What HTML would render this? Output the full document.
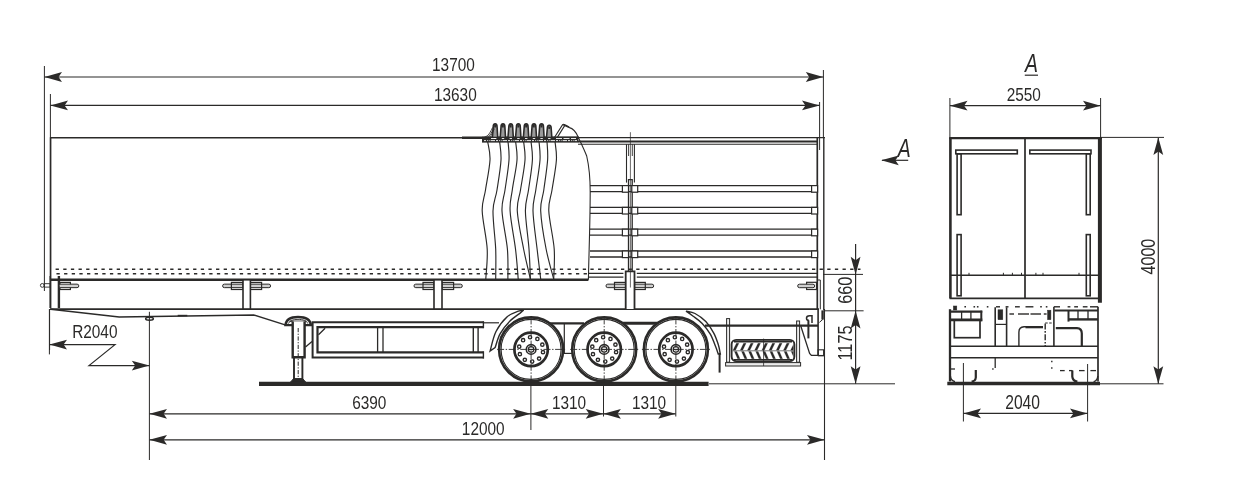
<!DOCTYPE html>
<html><head><meta charset="utf-8"><title>Semi-trailer</title>
<style>
html,body{margin:0;padding:0;background:#fff;}
svg{display:block;font-family:"Liberation Sans",sans-serif;will-change:transform;transform:translateZ(0);}
</style></head><body>
<svg width="1248" height="500" viewBox="0 0 1248 500" stroke="#2b2a29" fill="none" stroke-linecap="butt">
<rect x="0" y="0" width="1248" height="500" fill="#ffffff" stroke="none"/>
<!-- 10_topdims.py -->
<line x1="44.4" y1="66" x2="44.4" y2="291" stroke-width="1" />
<line x1="50.4" y1="94" x2="50.4" y2="280" stroke-width="1" />
<line x1="823.4" y1="70" x2="823.4" y2="138" stroke-width="1" />
<line x1="819.6" y1="102" x2="819.6" y2="150" stroke-width="1" />
<line x1="44.4" y1="77.0" x2="823.4" y2="77.0" stroke-width="1.2" />
<line x1="50.4" y1="105.4" x2="819.6" y2="105.4" stroke-width="1.2" />
<path d="M0,0 L-17.6,-4.9 L-14.200000000000001,0 L-17.6,4.9 Z" fill="#2b2a29" stroke="none" transform="translate(44.4,77.0) rotate(180)"/>
<path d="M0,0 L-17.6,-4.9 L-14.200000000000001,0 L-17.6,4.9 Z" fill="#2b2a29" stroke="none" transform="translate(823.4,77.0) rotate(0)"/>
<path d="M0,0 L-17.6,-4.9 L-14.200000000000001,0 L-17.6,4.9 Z" fill="#2b2a29" stroke="none" transform="translate(50.4,105.4) rotate(180)"/>
<path d="M0,0 L-17.6,-4.9 L-14.200000000000001,0 L-17.6,4.9 Z" fill="#2b2a29" stroke="none" transform="translate(819.6,105.4) rotate(0)"/>
<text transform="translate(453.4,70.6) rotate(0) scale(0.81,1)" font-size="19" text-anchor="middle" fill="#2b2a29" stroke="none" >13700</text>
<text transform="translate(455.3,101.0) rotate(0) scale(0.81,1)" font-size="19" text-anchor="middle" fill="#2b2a29" stroke="none" >13630</text>
<!-- 20_body.py -->
<line x1="51" y1="137.8" x2="462" y2="137.8" stroke-width="1.5" />
<line x1="462" y1="137.8" x2="579" y2="137.8" stroke-width="2.4" />
<line x1="578" y1="137.7" x2="825" y2="137.7" stroke-width="1.2" />
<line x1="578" y1="141.5" x2="818" y2="141.5" stroke-width="2.0" />
<line x1="578" y1="144.3" x2="818" y2="144.3" stroke-width="1.1" />
<line x1="50.6" y1="137.2" x2="50.6" y2="276" stroke-width="1.6" />
<line x1="50.4" y1="276" x2="50.4" y2="308" stroke-width="2.0" />
<line x1="50" y1="279.8" x2="588.4" y2="279.8" stroke-width="2.4" />
<line x1="55.6" y1="269.3" x2="860.5" y2="269.3" stroke-width="1.4" stroke-dasharray="3.3 4.34"/>
<line x1="56.45" y1="273.8" x2="589" y2="273.8" stroke-width="1.4" stroke-dasharray="3.3 4.34"/>
<line x1="589" y1="273.3" x2="623.4" y2="273.3" stroke-width="1.3" />
<line x1="636.8" y1="273.3" x2="818" y2="273.3" stroke-width="1.3" />
<line x1="589" y1="277.1" x2="623.4" y2="277.1" stroke-width="1.3" />
<line x1="636.8" y1="277.1" x2="818" y2="277.1" stroke-width="1.3" />
<line x1="50" y1="309.1" x2="819" y2="309.1" stroke-width="1.7" />
<circle cx="42.3" cy="285.4" r="1.9" stroke-width="0.9"/>
<rect x="44.2" y="283.7" width="6" height="3.4" stroke-width="0.9" fill="none" />
<line x1="58.9" y1="276" x2="58.9" y2="308" stroke-width="2.4" />
<rect x="60" y="282.4" width="10.4" height="7.1" stroke-width="1.2" fill="#fff" />
<rect x="59" y="284.15" width="19.8" height="3.5" rx="1.75" fill="#cfcfcf" stroke-width="1.0"/>
<rect x="222.6" y="284.15" width="48.00000000000003" height="3.5" rx="1.75" fill="#cfcfcf" stroke-width="1.0"/>
<rect x="231.4" y="282.4" width="11.599999999999994" height="7.1" stroke-width="1.2" fill="none" />
<rect x="250.4" y="282.4" width="11.200000000000017" height="7.1" stroke-width="1.2" fill="none" />
<rect x="243" y="279.8" width="7.4" height="29.2" stroke-width="1.6" fill="#fff" />
<rect x="414" y="284.15" width="48.30000000000001" height="3.5" rx="1.75" fill="#cfcfcf" stroke-width="1.0"/>
<rect x="423" y="282.4" width="11" height="7.1" stroke-width="1.2" fill="none" />
<rect x="442" y="282.4" width="11.600000000000023" height="7.1" stroke-width="1.2" fill="none" />
<rect x="434" y="279.8" width="8" height="29.2" stroke-width="1.6" fill="#fff" />
<rect x="606" y="284.15" width="47.700000000000045" height="3.5" rx="1.75" fill="#cfcfcf" stroke-width="1.0"/>
<rect x="614.5" y="282.4" width="11.200000000000045" height="7.1" stroke-width="1.2" fill="none" />
<rect x="634.5" y="282.4" width="10.799999999999955" height="7.1" stroke-width="1.2" fill="none" />
<path d="M625.7,309 V271.4 H634.5 V309" stroke-width="1.8" fill="#fff" />
<line x1="630.4" y1="132.2" x2="630.4" y2="287.5" stroke-width="0.7" />
<line x1="626.5" y1="144.2" x2="626.5" y2="182.6" stroke-width="1.1" />
<line x1="634.4" y1="144.2" x2="634.4" y2="182.6" stroke-width="1.1" />
<line x1="628.6" y1="144.2" x2="628.6" y2="156" stroke-width="0.9" />
<line x1="632.3" y1="144.2" x2="632.3" y2="156" stroke-width="0.9" />
<path d="M628.5,271.4 V179.6 H632.2 V271.4" stroke-width="1.3" fill="none" />
<line x1="817.3" y1="138" x2="817.3" y2="309" stroke-width="1.7" />
<line x1="823.8" y1="137.2" x2="823.8" y2="310" stroke-width="1.4" />
<line x1="590" y1="185.6" x2="817.6" y2="185.6" stroke-width="1.3" />
<line x1="590" y1="191.6" x2="817.6" y2="191.6" stroke-width="1.3" />
<rect x="622.4" y="185.6" width="6.1" height="6.6" stroke-width="1.2" fill="#fff" />
<rect x="631.8" y="185.6" width="5.9" height="6.6" stroke-width="1.2" fill="#fff" />
<rect x="811.6" y="185.6" width="6" height="6.6" stroke-width="1.2" fill="#fff" />
<line x1="590" y1="207.4" x2="817.6" y2="207.4" stroke-width="1.3" />
<line x1="590" y1="213.4" x2="817.6" y2="213.4" stroke-width="1.3" />
<rect x="622.4" y="207.4" width="6.1" height="6.6" stroke-width="1.2" fill="#fff" />
<rect x="631.8" y="207.4" width="5.9" height="6.6" stroke-width="1.2" fill="#fff" />
<rect x="811.6" y="207.4" width="6" height="6.6" stroke-width="1.2" fill="#fff" />
<line x1="590" y1="229.2" x2="817.6" y2="229.2" stroke-width="1.3" />
<line x1="590" y1="235.2" x2="817.6" y2="235.2" stroke-width="1.3" />
<rect x="622.4" y="229.2" width="6.1" height="6.6" stroke-width="1.2" fill="#fff" />
<rect x="631.8" y="229.2" width="5.9" height="6.6" stroke-width="1.2" fill="#fff" />
<rect x="811.6" y="229.2" width="6" height="6.6" stroke-width="1.2" fill="#fff" />
<line x1="590" y1="251.0" x2="817.6" y2="251.0" stroke-width="1.3" />
<line x1="590" y1="257.0" x2="817.6" y2="257.0" stroke-width="1.3" />
<rect x="622.4" y="251.0" width="6.1" height="6.6" stroke-width="1.2" fill="#fff" />
<rect x="631.8" y="251.0" width="5.9" height="6.6" stroke-width="1.2" fill="#fff" />
<rect x="811.6" y="251.0" width="6" height="6.6" stroke-width="1.2" fill="#fff" />
<!-- 30_curtain.py -->
<path d="M487.6,141.4 C488.0,144.5 490.4,151.9 490.0,160.0 C489.6,168.1 486.8,181.5 485.5,190.0 C484.2,198.5 481.9,201.2 482.2,211.0 C482.5,220.8 486.6,237.7 487.2,249.0 C487.8,260.3 486.0,274.0 485.8,279.0" stroke-width="1.15" fill="none" />
<path d="M499.6,141.4 C499.8,144.5 501.4,151.9 501.0,160.0 C500.6,168.1 498.3,181.5 497.0,190.0 C495.7,198.5 493.2,201.2 493.0,211.0 C492.8,220.8 495.2,237.7 495.7,249.0 C496.1,260.3 495.7,274.0 495.7,279.0" stroke-width="1.15" fill="none" />
<path d="M508.0,141.4 C508.2,144.5 509.5,151.9 509.0,160.0 C508.5,168.1 506.2,181.5 505.0,190.0 C503.8,198.5 501.6,201.2 502.0,211.0 C502.4,220.8 506.4,237.7 507.4,249.0 C508.4,260.3 507.8,274.0 507.9,279.0" stroke-width="1.15" fill="none" />
<path d="M515.6,141.4 C515.8,144.5 517.5,151.9 517.0,160.0 C516.5,168.1 513.4,181.5 512.3,190.0 C511.1,198.5 509.6,201.2 510.1,211.0 C510.6,220.8 514.1,237.7 515.5,249.0 C516.9,260.3 517.8,274.0 518.2,279.0" stroke-width="1.15" fill="none" />
<path d="M523.6,141.4 C523.8,144.5 525.5,151.9 525.0,160.0 C524.5,168.1 521.8,181.5 520.5,190.0 C519.2,198.5 516.8,201.2 517.3,211.0 C517.8,220.8 521.4,237.7 523.6,249.0 C525.8,260.3 529.3,274.0 530.4,279.0" stroke-width="1.15" fill="none" />
<path d="M531.0,141.4 C531.2,144.5 532.8,151.9 532.4,160.0 C532.0,168.1 529.7,181.5 528.5,190.0 C527.3,198.5 525.3,201.2 525.4,211.0 C525.5,220.8 528.2,237.7 529.0,249.0 C529.8,260.3 530.2,274.0 530.4,279.0" stroke-width="1.15" fill="none" />
<path d="M539.0,141.4 C539.2,144.5 540.5,151.9 540.0,160.0 C539.5,168.1 537.0,181.5 535.8,190.0 C534.6,198.5 532.8,201.2 533.0,211.0 C533.2,220.8 535.8,237.7 537.1,249.0 C538.4,260.3 540.1,274.0 540.7,279.0" stroke-width="1.15" fill="none" />
<path d="M547.0,141.4 C547.1,144.5 548.1,151.9 547.6,160.0 C547.1,168.1 544.9,181.5 543.8,190.0 C542.6,198.5 540.3,201.2 540.7,211.0 C541.1,220.8 543.9,237.7 546.1,249.0 C548.3,260.3 552.4,274.0 553.7,279.0" stroke-width="1.15" fill="none" />
<path d="M555.0,141.4 C555.2,144.5 556.9,151.9 556.4,160.0 C555.9,168.1 553.3,181.5 552.0,190.0 C550.7,198.5 548.4,201.2 548.8,211.0 C549.2,220.8 553.4,237.7 554.2,249.0 C555.0,260.3 553.8,274.0 553.7,279.0" stroke-width="1.15" fill="none" />
<path d="M492.4,137.2 L493.2,127.30000000000001 C493.2,124.7 494.0,123.9 495.2,123.9 C496.4,123.9 497.09999999999997,124.7 497.09999999999997,127.30000000000001 L497.7,137.2" stroke-width="1.6" fill="#9a9a9a" />
<path d="M495.09999999999997,127.5 V125.10000000000001" stroke-width="1.8" fill="none" />
<path d="M500.2,137.2 L501.0,127.30000000000001 C501.0,124.7 501.8,123.9 503.0,123.9 C504.2,123.9 504.9,124.7 504.9,127.30000000000001 L505.5,137.2" stroke-width="1.6" fill="#9a9a9a" />
<path d="M502.9,127.5 V125.10000000000001" stroke-width="1.8" fill="none" />
<path d="M508.0,137.2 L508.8,127.30000000000001 C508.8,124.7 509.6,123.9 510.8,123.9 C512.0,123.9 512.7,124.7 512.7,127.30000000000001 L513.3,137.2" stroke-width="1.6" fill="#9a9a9a" />
<path d="M510.7,127.5 V125.10000000000001" stroke-width="1.8" fill="none" />
<path d="M515.6,137.2 L516.4,127.30000000000001 C516.4,124.7 517.1999999999999,123.9 518.4,123.9 C519.6,123.9 520.3,124.7 520.3,127.30000000000001 L520.9,137.2" stroke-width="1.6" fill="#9a9a9a" />
<path d="M518.3,127.5 V125.10000000000001" stroke-width="1.8" fill="none" />
<path d="M523.4000000000001,137.2 L524.2,127.30000000000001 C524.2,124.7 525.0,123.9 526.2,123.9 C527.4000000000001,123.9 528.1,124.7 528.1,127.30000000000001 L528.7,137.2" stroke-width="1.6" fill="#9a9a9a" />
<path d="M526.1,127.5 V125.10000000000001" stroke-width="1.8" fill="none" />
<path d="M531.2,137.2 L532.0,127.30000000000001 C532.0,124.7 532.8,123.9 534.0,123.9 C535.2,123.9 535.9,124.7 535.9,127.30000000000001 L536.5,137.2" stroke-width="1.6" fill="#9a9a9a" />
<path d="M533.9,127.5 V125.10000000000001" stroke-width="1.8" fill="none" />
<path d="M538.8000000000001,137.2 L539.6,127.30000000000001 C539.6,124.7 540.4,123.9 541.6,123.9 C542.8000000000001,123.9 543.5,124.7 543.5,127.30000000000001 L544.1,137.2" stroke-width="1.6" fill="#9a9a9a" />
<path d="M541.5,127.5 V125.10000000000001" stroke-width="1.8" fill="none" />
<path d="M546.5,137.2 L547.3,128.7 C547.3,126.1 548.0999999999999,125.3 549.3,125.3 C550.5,125.3 551.1999999999999,126.1 551.1999999999999,128.7 L551.8,137.2" stroke-width="1.6" fill="#9a9a9a" />
<path d="M549.1999999999999,128.9 V126.5" stroke-width="1.8" fill="none" />
<path d="M484.5,137.0 C488.5,136.4 490.4,132 492.6,127.5" stroke-width="0.9" fill="none" />
<path d="M487.4,137.0 C490.6,135.6 491.8,132 493.8,127.8" stroke-width="0.9" fill="none" />
<path d="M489.8,137.0 C491.8,135 492.8,132 494.4,128.6" stroke-width="0.8" fill="none" />
<path d="M554.6,137.2 L562.6,124.6 C563.2,124 564,124.2 565,124.8 L568.6,126.7 L569.4,127.6 C572,128.2 575.5,131 578,136.7 C581,143 584.5,150 586.7,156 C589,166 590.2,178 590.2,192 C590.2,220 589,250 588.4,279.8" stroke-width="1.1" fill="none" />
<path d="M557.4,137.2 L564.6,125.8" stroke-width="1.2" fill="none" />
<path d="M563,124.6 L569,127.4" stroke-width="1.6" fill="none" />
<rect x="482" y="136.75" width="96.4" height="5.85" stroke-width="0" fill="#2b2a29" stroke="none"/>
<line x1="494.0" y1="138.5" x2="496.4" y2="138.5" stroke-width="0.9" stroke="#fff"/>
<line x1="501.8" y1="138.5" x2="504.2" y2="138.5" stroke-width="0.9" stroke="#fff"/>
<line x1="509.6" y1="138.5" x2="512.0" y2="138.5" stroke-width="0.9" stroke="#fff"/>
<line x1="517.1999999999999" y1="138.5" x2="519.6" y2="138.5" stroke-width="0.9" stroke="#fff"/>
<line x1="525.0" y1="138.5" x2="527.4000000000001" y2="138.5" stroke-width="0.9" stroke="#fff"/>
<line x1="532.8" y1="138.5" x2="535.2" y2="138.5" stroke-width="0.9" stroke="#fff"/>
<line x1="540.4" y1="138.5" x2="542.8000000000001" y2="138.5" stroke-width="0.9" stroke="#fff"/>
<line x1="548.0999999999999" y1="138.5" x2="550.5" y2="138.5" stroke-width="0.9" stroke="#fff"/>
<line x1="491" y1="138.5" x2="496" y2="138.5" stroke-width="0.9" stroke="#fff"/>
<line x1="556" y1="138.5" x2="576" y2="138.5" stroke-width="0.9" stroke="#fff" stroke-dasharray="6 1.5"/>
<line x1="484" y1="140.6" x2="577" y2="140.6" stroke-width="0.9" stroke="#fff" stroke-dasharray="2 1 0.8 1 0.8 1 4.4 1"/>
<!-- 40_chassis.py -->
<path d="M50.6,309.2 L119.2,317.1 L253.8,315 L285.9,325.1" stroke-width="1.5" fill="none" />
<line x1="177.7" y1="315.6" x2="187.3" y2="315.6" stroke-width="1.6" />
<line x1="49.6" y1="309" x2="49.6" y2="350" stroke-width="1.0" />
<line x1="149.4" y1="311.8" x2="149.4" y2="460" stroke-width="1.0" />
<ellipse cx="149.5" cy="318.8" rx="3.9" ry="1.5" stroke-width="1.4"/>
<path d="M285.4,325.2 C286,319.4 291,317.0 298,317.0 C305,317.0 310.4,319.4 311.0,325.2 Z" stroke-width="2.3" fill="#fff" />
<path d="M288.4,323.6 C289.6,320.4 293,319.4 298,319.4 C303,319.4 306.6,320.4 307.8,323.6" stroke-width="0.9" fill="none" />
<line x1="289.5" y1="321.2" x2="306.5" y2="321.2" stroke-width="1.2" />
<path d="M292.7,321.4 V357.2 H304.6 V321.4" stroke-width="2.4" fill="#fff" />
<path d="M294.0,357.2 V381 M302.4,357.2 V381" stroke-width="1.9" fill="none" />
<path d="M290.2,382.4 L293.6,378.6 H302.6 L306,382.4 Z" stroke-width="1.0" fill="#2b2a29" />
<line x1="298.2" y1="328" x2="298.2" y2="379" stroke-width="1.0" stroke-dasharray="4.2 1.5 1.2 1.5"/>
<line x1="259" y1="383.95" x2="708.6" y2="383.95" stroke-width="4.3" />
<path d="M483.6,322.2 H312.6 V357.6 H483.6" stroke-width="2.0" fill="none" />
<path d="M483.6,327.1 H317.5 V352.4 H483.6" stroke-width="2.2" fill="none" />
<line x1="483.4" y1="321.2" x2="483.4" y2="328.2" stroke-width="1.4" />
<line x1="483.4" y1="351.3" x2="483.4" y2="358.6" stroke-width="1.4" />
<line x1="377.6" y1="327" x2="377.6" y2="352.5" stroke-width="1.3" />
<line x1="383" y1="327" x2="383" y2="352.5" stroke-width="1.3" />
<line x1="473.3" y1="327" x2="473.3" y2="352.5" stroke-width="1.4" />
<line x1="478.1" y1="327" x2="478.1" y2="352.5" stroke-width="1.4" />
<path d="M305.5,346.9 L312,341.4 M318.5,334.8 L325.1,328.2" stroke-width="1.3" fill="none" />
<line x1="484" y1="322.8" x2="499" y2="322.8" stroke-width="1.2" />
<!-- 50_wheels.py -->
<line x1="550" y1="323.4" x2="584" y2="323.4" stroke-width="2.2" />
<line x1="617" y1="323.2" x2="663" y2="323.2" stroke-width="3.0" />
<line x1="564.3" y1="323" x2="564.3" y2="353.4" stroke-width="1.2" />
<line x1="562.5" y1="353.4" x2="573" y2="353.4" stroke-width="1.2" />
<circle cx="531.1" cy="349.4" r="32.0" stroke-width="2.6" fill="#fff"/>
<circle cx="531.1" cy="349.4" r="30.0" stroke-width="1.1" fill="none"/>
<circle cx="531.1" cy="349.4" r="16.7" stroke-width="2.7" fill="none"/>
<circle cx="531.1" cy="349.4" r="4.8" stroke-width="1.6" fill="none"/>
<circle cx="531.1" cy="349.4" r="2.7" stroke-width="1.2" fill="none"/>
<line x1="528.1" y1="349.4" x2="534.1" y2="349.4" stroke-width="1.1" />
<circle cx="530.04" cy="337.25" r="1.65" stroke-width="1.4" fill="none"/>
<circle cx="537.38" cy="338.94" r="1.65" stroke-width="1.4" fill="none"/>
<circle cx="542.33" cy="344.63" r="1.65" stroke-width="1.4" fill="none"/>
<circle cx="542.99" cy="352.14" r="1.65" stroke-width="1.4" fill="none"/>
<circle cx="539.1" cy="358.61" r="1.65" stroke-width="1.4" fill="none"/>
<circle cx="532.16" cy="361.55" r="1.65" stroke-width="1.4" fill="none"/>
<circle cx="524.82" cy="359.86" r="1.65" stroke-width="1.4" fill="none"/>
<circle cx="519.87" cy="354.17" r="1.65" stroke-width="1.4" fill="none"/>
<circle cx="519.21" cy="346.66" r="1.65" stroke-width="1.4" fill="none"/>
<circle cx="523.1" cy="340.19" r="1.65" stroke-width="1.4" fill="none"/>
<line x1="497.1" y1="349.4" x2="565.1" y2="349.4" stroke-width="0.9" stroke-dasharray="7 1.6 1.4 1.6"/>
<line x1="531.1" y1="317.4" x2="531.1" y2="382.4" stroke-width="0.9" stroke-dasharray="7 1.6 1.4 1.6"/>
<circle cx="604.2" cy="349.4" r="32.0" stroke-width="2.6" fill="#fff"/>
<circle cx="604.2" cy="349.4" r="30.0" stroke-width="1.1" fill="none"/>
<circle cx="604.2" cy="349.4" r="16.7" stroke-width="2.7" fill="none"/>
<circle cx="604.2" cy="349.4" r="4.8" stroke-width="1.6" fill="none"/>
<circle cx="604.2" cy="349.4" r="2.7" stroke-width="1.2" fill="none"/>
<line x1="601.2" y1="349.4" x2="607.2" y2="349.4" stroke-width="1.1" />
<circle cx="603.14" cy="337.25" r="1.65" stroke-width="1.4" fill="none"/>
<circle cx="610.48" cy="338.94" r="1.65" stroke-width="1.4" fill="none"/>
<circle cx="615.43" cy="344.63" r="1.65" stroke-width="1.4" fill="none"/>
<circle cx="616.09" cy="352.14" r="1.65" stroke-width="1.4" fill="none"/>
<circle cx="612.2" cy="358.61" r="1.65" stroke-width="1.4" fill="none"/>
<circle cx="605.26" cy="361.55" r="1.65" stroke-width="1.4" fill="none"/>
<circle cx="597.92" cy="359.86" r="1.65" stroke-width="1.4" fill="none"/>
<circle cx="592.97" cy="354.17" r="1.65" stroke-width="1.4" fill="none"/>
<circle cx="592.31" cy="346.66" r="1.65" stroke-width="1.4" fill="none"/>
<circle cx="596.2" cy="340.19" r="1.65" stroke-width="1.4" fill="none"/>
<line x1="570.2" y1="349.4" x2="638.2" y2="349.4" stroke-width="0.9" stroke-dasharray="7 1.6 1.4 1.6"/>
<line x1="604.2" y1="317.4" x2="604.2" y2="382.4" stroke-width="0.9" stroke-dasharray="7 1.6 1.4 1.6"/>
<circle cx="675.9" cy="349.4" r="32.0" stroke-width="2.6" fill="#fff"/>
<circle cx="675.9" cy="349.4" r="30.0" stroke-width="1.1" fill="none"/>
<circle cx="675.9" cy="349.4" r="16.7" stroke-width="2.7" fill="none"/>
<circle cx="675.9" cy="349.4" r="4.8" stroke-width="1.6" fill="none"/>
<circle cx="675.9" cy="349.4" r="2.7" stroke-width="1.2" fill="none"/>
<line x1="672.9" y1="349.4" x2="678.9" y2="349.4" stroke-width="1.1" />
<circle cx="674.84" cy="337.25" r="1.65" stroke-width="1.4" fill="none"/>
<circle cx="682.18" cy="338.94" r="1.65" stroke-width="1.4" fill="none"/>
<circle cx="687.13" cy="344.63" r="1.65" stroke-width="1.4" fill="none"/>
<circle cx="687.79" cy="352.14" r="1.65" stroke-width="1.4" fill="none"/>
<circle cx="683.9" cy="358.61" r="1.65" stroke-width="1.4" fill="none"/>
<circle cx="676.96" cy="361.55" r="1.65" stroke-width="1.4" fill="none"/>
<circle cx="669.62" cy="359.86" r="1.65" stroke-width="1.4" fill="none"/>
<circle cx="664.67" cy="354.17" r="1.65" stroke-width="1.4" fill="none"/>
<circle cx="664.01" cy="346.66" r="1.65" stroke-width="1.4" fill="none"/>
<circle cx="667.9" cy="340.19" r="1.65" stroke-width="1.4" fill="none"/>
<line x1="641.9" y1="349.4" x2="709.9" y2="349.4" stroke-width="0.9" stroke-dasharray="7 1.6 1.4 1.6"/>
<line x1="675.9" y1="317.4" x2="675.9" y2="382.4" stroke-width="0.9" stroke-dasharray="7 1.6 1.4 1.6"/>
<!-- 55_fenders.py -->
<path d="M523.7,310.0 C522.8,310.2 521.1,310.1 518.4,311.2 C515.6,312.3 510.9,313.4 507.2,316.8 C503.5,320.2 498.9,325.8 496.0,331.5 C493.1,337.2 491.1,347.8 490.1,351.1 L495.1,347.6 C496.0,345.3 497.7,338.0 500.2,333.6 C502.7,329.2 506.7,324.4 510.0,321.0 C513.3,317.6 518.4,314.4 520.1,313.1 Z" stroke-width="1.4" fill="#fff" />
<path d="M686.0,311.2 C687.5,311.6 691.7,311.8 695.0,313.5 C698.3,315.2 702.6,318.3 705.8,321.6 C708.9,324.9 711.8,329.4 713.9,333.3 C716.0,337.2 717.3,341.6 718.4,345.0 C719.5,348.4 720.0,352.5 720.3,354.0 L718.2,354 C717.8,352.8 717.0,350.1 715.7,346.8 C714.4,343.5 712.5,338.1 710.3,334.2 C708.0,330.3 705.1,326.4 702.2,323.4 C699.4,320.4 695.9,318.2 693.2,316.2 C690.5,314.2 687.2,312.0 686.0,311.2 Z" stroke-width="1.4" fill="#fff" />
<line x1="719.6" y1="353" x2="719.6" y2="372.6" stroke-width="2.0" />
<!-- 60_rear.py -->
<rect x="726.6" y="318.6" width="3" height="43.6" stroke-width="1.0" fill="#ececec" />
<rect x="796.6" y="321" width="3" height="41.2" stroke-width="1.0" fill="#ececec" />
<rect x="725.6" y="362.6" width="75" height="3.4" stroke-width="1.0" fill="#ececec" />
<line x1="705" y1="325.7" x2="818" y2="325.7" stroke-width="2.2" />
<clipPath id="tyc"><rect x="732.6" y="342.6" width="60.8" height="16.8" rx="3.5"/></clipPath>
<rect x="731.6" y="339.9" width="62.8" height="21.2" rx="4.5" ry="4.5" stroke-width="1.9" fill="#fff"/>
<line x1="734" y1="341.6" x2="792" y2="341.6" stroke-width="1.6" />
<line x1="734" y1="359.5" x2="792" y2="359.5" stroke-width="1.0" />
<g clip-path="url(#tyc)">
<path d="M725.8,350.3 L729.1999999999999,343.3 L731.6999999999999,343.3 L728.3,350.3 Z" stroke-width="0.2" fill="#2b2a29" />
<path d="M727.3,351.4 L730.5,358.8 L732.9,358.8 L729.6999999999999,351.4 Z" stroke-width="0.2" fill="#2b2a29" />
<path d="M733.0,350.3 L736.4,343.3 L738.9,343.3 L735.5,350.3 Z" stroke-width="0.2" fill="#2b2a29" />
<path d="M734.4,351.4 L737.6,358.8 L740.0,358.8 L736.8,351.4 Z" stroke-width="0.2" fill="#2b2a29" />
<path d="M740.2,350.3 L743.6,343.3 L746.1,343.3 L742.7,350.3 Z" stroke-width="0.2" fill="#2b2a29" />
<path d="M741.5,351.4 L744.7,358.8 L747.1,358.8 L743.9,351.4 Z" stroke-width="0.2" fill="#2b2a29" />
<path d="M747.4,350.3 L750.8,343.3 L753.3,343.3 L749.9,350.3 Z" stroke-width="0.2" fill="#2b2a29" />
<path d="M748.6,351.4 L751.8000000000001,358.8 L754.2,358.8 L751.0,351.4 Z" stroke-width="0.2" fill="#2b2a29" />
<path d="M754.6,350.3 L758.0,343.3 L760.5,343.3 L757.1,350.3 Z" stroke-width="0.2" fill="#2b2a29" />
<path d="M755.6999999999999,351.4 L758.9,358.8 L761.3,358.8 L758.0999999999999,351.4 Z" stroke-width="0.2" fill="#2b2a29" />
<path d="M761.8,350.3 L765.1999999999999,343.3 L767.6999999999999,343.3 L764.3,350.3 Z" stroke-width="0.2" fill="#2b2a29" />
<path d="M762.8,351.4 L766.0,358.8 L768.4,358.8 L765.1999999999999,351.4 Z" stroke-width="0.2" fill="#2b2a29" />
<path d="M769.0,350.3 L772.4,343.3 L774.9,343.3 L771.5,350.3 Z" stroke-width="0.2" fill="#2b2a29" />
<path d="M769.9,351.4 L773.1,358.8 L775.5,358.8 L772.3,351.4 Z" stroke-width="0.2" fill="#2b2a29" />
<path d="M776.2,350.3 L779.6,343.3 L782.1,343.3 L778.7,350.3 Z" stroke-width="0.2" fill="#2b2a29" />
<path d="M777.0,351.4 L780.2,358.8 L782.6,358.8 L779.4,351.4 Z" stroke-width="0.2" fill="#2b2a29" />
<path d="M783.4,350.3 L786.8,343.3 L789.3,343.3 L785.9,350.3 Z" stroke-width="0.2" fill="#2b2a29" />
<path d="M784.1,351.4 L787.3000000000001,358.8 L789.7,358.8 L786.5,351.4 Z" stroke-width="0.2" fill="#2b2a29" />
<path d="M790.6,350.3 L794.0,343.3 L796.5,343.3 L793.1,350.3 Z" stroke-width="0.2" fill="#2b2a29" />
<path d="M791.1999999999999,351.4 L794.4,358.8 L796.8,358.8 L793.5999999999999,351.4 Z" stroke-width="0.2" fill="#2b2a29" />
<path d="M797.8,350.3 L801.1999999999999,343.3 L803.6999999999999,343.3 L800.3,350.3 Z" stroke-width="0.2" fill="#2b2a29" />
<path d="M798.3,351.4 L801.5,358.8 L803.9,358.8 L800.6999999999999,351.4 Z" stroke-width="0.2" fill="#2b2a29" />
</g>
<line x1="732.5" y1="350.8" x2="793.5" y2="350.8" stroke-width="0.8" stroke="#555"/>
<line x1="763.6" y1="338.6" x2="763.6" y2="366" stroke-width="0.8" />
<rect x="806.6" y="282.3" width="9.9" height="7.2" stroke-width="1.2" fill="#fff" />
<rect x="797.7" y="284.2" width="17" height="3.5" rx="1.75" fill="#cfcfcf" stroke-width="1.0"/>
<path d="M818,280 H820.3 V309.3" stroke-width="1.0" fill="none" />
<line x1="818.1" y1="309.3" x2="818.1" y2="355.8" stroke-width="1.6" />
<line x1="818.1" y1="355.6" x2="824.6" y2="355.6" stroke-width="1.3" />
<rect x="818.1" y="349.8" width="5.5" height="5.8" stroke-width="1.1" fill="none" />
<line x1="822.6" y1="310.4" x2="822.6" y2="319.6" stroke-width="2.4" />
<line x1="822.8" y1="319.4" x2="819.4" y2="322.4" stroke-width="1.0" />
<path d="M800.8,326 L809.6,353.4 L811.4,355.4 H818.1" stroke-width="1.3" fill="none" />
<path d="M812,323 V315.7 H809.6 C807.2,315.7 806.5,317 806.5,318.2 C806.5,319.6 807.4,320.3 808.8,320.3" stroke-width="1.5" fill="none" />
<line x1="808.4" y1="320.3" x2="808.4" y2="338.4" stroke-width="2.0" />
<!-- 70_dims.py -->
<line x1="49.4" y1="309" x2="49.4" y2="354.4" stroke-width="1.0" />
<path d="M49.4,344.6 H115 L89,365.6 H149.4" stroke-width="1.2" fill="none" />
<path d="M0,0 L-17.6,-4.9 L-14.200000000000001,0 L-17.6,4.9 Z" fill="#2b2a29" stroke="none" transform="translate(49.4,344.6) rotate(180)"/>
<path d="M0,0 L-17.6,-4.9 L-14.200000000000001,0 L-17.6,4.9 Z" fill="#2b2a29" stroke="none" transform="translate(149.4,365.6) rotate(0)"/>
<text transform="translate(94.8,338.3) rotate(0) scale(0.81,1)" font-size="19" text-anchor="middle" fill="#2b2a29" stroke="none" >R2040</text>
<line x1="149.4" y1="413.8" x2="675.7" y2="413.8" stroke-width="1.2" />
<line x1="149.4" y1="439.8" x2="824.6" y2="439.8" stroke-width="1.2" />
<path d="M0,0 L-17.6,-4.9 L-14.200000000000001,0 L-17.6,4.9 Z" fill="#2b2a29" stroke="none" transform="translate(149.4,413.8) rotate(180)"/>
<path d="M0,0 L-17.6,-4.9 L-14.200000000000001,0 L-17.6,4.9 Z" fill="#2b2a29" stroke="none" transform="translate(530.7,413.8) rotate(0)"/>
<path d="M0,0 L-17.6,-4.9 L-14.200000000000001,0 L-17.6,4.9 Z" fill="#2b2a29" stroke="none" transform="translate(530.7,413.8) rotate(180)"/>
<path d="M0,0 L-17.6,-4.9 L-14.200000000000001,0 L-17.6,4.9 Z" fill="#2b2a29" stroke="none" transform="translate(603.3,413.8) rotate(0)"/>
<path d="M0,0 L-17.6,-4.9 L-14.200000000000001,0 L-17.6,4.9 Z" fill="#2b2a29" stroke="none" transform="translate(603.3,413.8) rotate(180)"/>
<path d="M0,0 L-17.6,-4.9 L-14.200000000000001,0 L-17.6,4.9 Z" fill="#2b2a29" stroke="none" transform="translate(675.7,413.8) rotate(0)"/>
<path d="M0,0 L-17.6,-4.9 L-14.200000000000001,0 L-17.6,4.9 Z" fill="#2b2a29" stroke="none" transform="translate(149.4,439.8) rotate(180)"/>
<path d="M0,0 L-17.6,-4.9 L-14.200000000000001,0 L-17.6,4.9 Z" fill="#2b2a29" stroke="none" transform="translate(824.6,439.8) rotate(0)"/>
<line x1="530.9" y1="383" x2="530.9" y2="430" stroke-width="1.0" />
<line x1="603.5" y1="383" x2="603.5" y2="416.5" stroke-width="1.0" />
<line x1="675.8" y1="383" x2="675.8" y2="416.5" stroke-width="1.0" />
<text transform="translate(369.3,408.7) rotate(0) scale(0.81,1)" font-size="19" text-anchor="middle" fill="#2b2a29" stroke="none" >6390</text>
<text transform="translate(569,408.7) rotate(0) scale(0.81,1)" font-size="19" text-anchor="middle" fill="#2b2a29" stroke="none" >1310</text>
<text transform="translate(649,408.7) rotate(0) scale(0.81,1)" font-size="19" text-anchor="middle" fill="#2b2a29" stroke="none" >1310</text>
<text transform="translate(483.2,434.8) rotate(0) scale(0.81,1)" font-size="19" text-anchor="middle" fill="#2b2a29" stroke="none" >12000</text>
<line x1="824.5" y1="309" x2="824.5" y2="460" stroke-width="1.1" />
<line x1="855.6" y1="244" x2="855.6" y2="383.8" stroke-width="1.2" />
<line x1="823" y1="274.4" x2="863" y2="274.4" stroke-width="1.0" />
<line x1="823.5" y1="310.8" x2="863.6" y2="310.8" stroke-width="1.0" />
<line x1="709" y1="383.8" x2="895" y2="383.8" stroke-width="1.0" />
<path d="M0,0 L-17.6,-4.9 L-14.200000000000001,0 L-17.6,4.9 Z" fill="#2b2a29" stroke="none" transform="translate(855.6,274.4) rotate(90)"/>
<path d="M0,0 L-17.6,-4.9 L-14.200000000000001,0 L-17.6,4.9 Z" fill="#2b2a29" stroke="none" transform="translate(855.6,310.8) rotate(-90)"/>
<path d="M0,0 L-17.6,-4.9 L-14.200000000000001,0 L-17.6,4.9 Z" fill="#2b2a29" stroke="none" transform="translate(855.6,383.8) rotate(90)"/>
<text transform="translate(852.0,290.2) rotate(-90) scale(0.79,1)" font-size="20.6" text-anchor="middle" fill="#2b2a29" stroke="none" >660</text>
<text transform="translate(852.0,343) rotate(-90) scale(0.79,1)" font-size="20.6" text-anchor="middle" fill="#2b2a29" stroke="none" >1175</text>
<line x1="882" y1="160.3" x2="908.2" y2="160.3" stroke-width="1.2" />
<path d="M0,0 L-17.6,-4.9 L-14.200000000000001,0 L-17.6,4.9 Z" fill="#2b2a29" stroke="none" transform="translate(881.2,160.3) rotate(180)"/>
<text transform="translate(904.3,156.6) rotate(0) scale(0.765,1)" font-size="25.4" text-anchor="middle" fill="#2b2a29" stroke="none" font-style="italic">A</text>
<!-- 80_rearview.py -->
<text transform="translate(1031.5,72.4) rotate(0) scale(0.765,1)" font-size="25.4" text-anchor="middle" fill="#2b2a29" stroke="none" font-style="italic">A</text>
<line x1="1024.8" y1="75.2" x2="1038" y2="75.2" stroke-width="1.2" />
<text transform="translate(1023.8,101) rotate(0) scale(0.81,1)" font-size="19" text-anchor="middle" fill="#2b2a29" stroke="none" >2550</text>
<line x1="949.9" y1="105.7" x2="1100.6" y2="105.7" stroke-width="1.2" />
<path d="M0,0 L-17.6,-4.9 L-14.200000000000001,0 L-17.6,4.9 Z" fill="#2b2a29" stroke="none" transform="translate(949.9,105.7) rotate(180)"/>
<path d="M0,0 L-17.6,-4.9 L-14.200000000000001,0 L-17.6,4.9 Z" fill="#2b2a29" stroke="none" transform="translate(1100.6,105.7) rotate(0)"/>
<line x1="949.9" y1="98" x2="949.9" y2="138" stroke-width="1.0" />
<line x1="1100.6" y1="98" x2="1100.6" y2="138" stroke-width="1.0" />
<line x1="949.2" y1="138.1" x2="1102" y2="138.1" stroke-width="2.3" />
<line x1="950.4" y1="138" x2="950.4" y2="298.4" stroke-width="2.6" />
<line x1="1099.9" y1="137.4" x2="1099.9" y2="302.8" stroke-width="4.0" />
<line x1="1025" y1="138" x2="1025" y2="298.4" stroke-width="1.7" />
<line x1="949.6" y1="298.4" x2="1100" y2="298.4" stroke-width="1.6" />
<line x1="950.6" y1="275.2" x2="1100" y2="275.2" stroke-width="1.5" />
<line x1="969" y1="272.8" x2="969" y2="275.2" stroke-width="1.0" />
<line x1="1003.4" y1="272.8" x2="1003.4" y2="275.2" stroke-width="1.0" />
<line x1="1012.4" y1="272.8" x2="1012.4" y2="275.2" stroke-width="1.0" />
<line x1="1021.5" y1="272.8" x2="1021.5" y2="275.2" stroke-width="1.0" />
<line x1="1035.9" y1="272.8" x2="1035.9" y2="275.2" stroke-width="1.0" />
<line x1="1043" y1="272.8" x2="1043" y2="275.2" stroke-width="1.0" />
<line x1="1079" y1="272.8" x2="1079" y2="275.2" stroke-width="1.0" />
<rect x="955.8" y="150.1" width="61.5" height="3.7" stroke-width="1.6" fill="none" />
<rect x="1029.8" y="150.1" width="61.2" height="3.7" stroke-width="1.6" fill="none" />
<rect x="957.1" y="153.8" width="4.0" height="60.9" stroke-width="1.6" fill="none" />
<rect x="1086.3" y="153.8" width="3.9" height="60.9" stroke-width="1.6" fill="none" />
<rect x="957.1" y="234.6" width="4.0" height="61.2" stroke-width="1.6" fill="none" />
<rect x="1086.3" y="234.6" width="3.9" height="61.2" stroke-width="1.6" fill="none" />
<line x1="1100" y1="137.4" x2="1164" y2="137.4" stroke-width="1.0" />
<line x1="1100" y1="383.8" x2="1163.5" y2="383.8" stroke-width="1.0" />
<line x1="1158.3" y1="138" x2="1158.3" y2="383.8" stroke-width="1.2" />
<path d="M0,0 L-17.6,-4.9 L-14.200000000000001,0 L-17.6,4.9 Z" fill="#2b2a29" stroke="none" transform="translate(1158.3,137.4) rotate(-90)"/>
<path d="M0,0 L-17.6,-4.9 L-14.200000000000001,0 L-17.6,4.9 Z" fill="#2b2a29" stroke="none" transform="translate(1158.3,383.8) rotate(90)"/>
<text transform="translate(1155.0,256.6) rotate(-90) scale(0.78,1)" font-size="20.6" text-anchor="middle" fill="#2b2a29" stroke="none" >4000</text>
<line x1="950" y1="309.2" x2="950" y2="381.4" stroke-width="2.3" />
<line x1="1098" y1="306.8" x2="1098" y2="381.4" stroke-width="1.7" />
<rect x="953.4" y="306" width="3.3999999999999773" height="4" stroke-width="0.5" fill="#2b2a29" />
<line x1="964.4000000000001" y1="306.8" x2="966.0" y2="306.8" stroke-width="1.5" />
<line x1="973.5" y1="306.8" x2="975.0999999999999" y2="306.8" stroke-width="1.5" />
<line x1="976.9000000000001" y1="306.8" x2="978.5" y2="306.8" stroke-width="1.5" />
<line x1="986.8000000000001" y1="306.8" x2="988.4" y2="306.8" stroke-width="1.5" />
<line x1="1040.2" y1="306.8" x2="1041.8" y2="306.8" stroke-width="1.5" />
<line x1="1045.8" y1="306.8" x2="1047.3999999999999" y2="306.8" stroke-width="1.5" />
<line x1="996" y1="306.8" x2="1000" y2="306.8" stroke-width="1.4" />
<line x1="1005.6" y1="306.8" x2="1008.5" y2="306.8" stroke-width="1.4" />
<line x1="1015" y1="306.8" x2="1019.8" y2="306.8" stroke-width="1.4" />
<line x1="1025.5" y1="306.8" x2="1033.4" y2="306.8" stroke-width="1.4" />
<line x1="1054" y1="306.8" x2="1060" y2="306.8" stroke-width="1.4" />
<line x1="1067.6" y1="306.8" x2="1070.4" y2="306.8" stroke-width="1.4" />
<line x1="1074.2" y1="306.8" x2="1078" y2="306.8" stroke-width="1.4" />
<line x1="1082.8" y1="306.8" x2="1087.5" y2="306.8" stroke-width="1.4" />
<line x1="1090" y1="306.8" x2="1098" y2="306.8" stroke-width="1.4" />
<line x1="950" y1="311.7" x2="982.3" y2="311.7" stroke-width="2.2" />
<line x1="950" y1="319.9" x2="982.3" y2="319.9" stroke-width="2.6" />
<line x1="961.6" y1="311.7" x2="961.6" y2="320" stroke-width="1.3" />
<line x1="970.9" y1="311.7" x2="970.9" y2="320" stroke-width="1.3" />
<line x1="981.3" y1="310.7" x2="981.3" y2="321.2" stroke-width="2.0" />
<rect x="954.3" y="320.2" width="25.7" height="17.5" stroke-width="1.7" fill="none" />
<line x1="995.2" y1="307.3" x2="995.2" y2="346.3" stroke-width="1.6" />
<line x1="1006.6" y1="307.3" x2="1006.6" y2="346.3" stroke-width="1.6" />
<rect x="998" y="309.8" width="4.8" height="9.9" stroke-width="0.5" fill="#2b2a29" />
<line x1="995.2" y1="324.4" x2="1006.6" y2="324.4" stroke-width="1.2" />
<line x1="1009.4" y1="314" x2="1014" y2="314" stroke-width="1.4" />
<line x1="1018" y1="314" x2="1029" y2="314" stroke-width="1.4" />
<line x1="1030.5" y1="314" x2="1041" y2="314" stroke-width="1.4" />
<line x1="1043.8" y1="314" x2="1046.6" y2="314" stroke-width="1.4" />
<rect x="1047.6" y="310.2" width="3.3" height="9.5" stroke-width="0.5" fill="#2b2a29" />
<path d="M1018.9,346.3 V332.2 C1018.9,329 1021,327 1024,326.8 H1043" stroke-width="1.4" fill="none" />
<line x1="1025.5" y1="327.2" x2="1043" y2="327.2" stroke-width="2.2" />
<line x1="1045.2" y1="323.5" x2="1045.2" y2="346.3" stroke-width="1.4" stroke-dasharray="6 1.6 1.6 1.6"/>
<line x1="1045.2" y1="323" x2="1053.9" y2="323" stroke-width="1.2" stroke-dasharray="2.5 1.5"/>
<line x1="1053.9" y1="306.8" x2="1053.9" y2="346.3" stroke-width="1.6" />
<path d="M1055.8,328.2 H1077 C1080.5,328.4 1081.8,330.5 1081.8,333.5 V346.3" stroke-width="2.2" fill="none" />
<line x1="1054.3" y1="310.6" x2="1098" y2="310.6" stroke-width="2.0" />
<line x1="1068.5" y1="319.4" x2="1098" y2="319.4" stroke-width="2.4" />
<line x1="1068.5" y1="310.6" x2="1068.5" y2="321.6" stroke-width="2.0" />
<line x1="1078" y1="310.6" x2="1078" y2="319.4" stroke-width="1.3" />
<line x1="1088" y1="310.6" x2="1088" y2="319.4" stroke-width="1.3" />
<line x1="950" y1="346.3" x2="1098" y2="346.3" stroke-width="1.5" />
<line x1="950" y1="357.7" x2="1098" y2="357.7" stroke-width="1.5" />
<line x1="995.2" y1="357.7" x2="995.2" y2="368" stroke-width="1.3" />
<line x1="992.2" y1="369" x2="993.6" y2="369" stroke-width="1.4" />
<line x1="1051.8" y1="360.8" x2="1051.8" y2="362.2" stroke-width="1.4" />
<line x1="1051.8" y1="367.3" x2="1051.8" y2="368.7" stroke-width="1.4" />
<line x1="1060" y1="370.6" x2="1064.7" y2="370.6" stroke-width="1.3" />
<line x1="1069" y1="370.6" x2="1072.6" y2="370.6" stroke-width="1.3" />
<line x1="1079" y1="370.6" x2="1084.6" y2="370.6" stroke-width="1.3" />
<line x1="1090.4" y1="370.6" x2="1096" y2="370.6" stroke-width="1.3" />
<line x1="950" y1="369" x2="955" y2="369" stroke-width="1.3" />
<path d="M950.4,376 C950.6,379 952,381 955,381.6" stroke-width="1.4" fill="none" />
<path d="M975.8,370 V377.5 C975.6,380 974,381.3 971.6,381.6" stroke-width="2.2" fill="none" />
<path d="M1072.3,370.6 V376.6 C1072.6,379.6 1074.5,381.3 1077.4,381.6" stroke-width="2.2" fill="none" />
<path d="M1097.8,376 C1097.6,379 1096.4,381 1093.6,381.6" stroke-width="1.4" fill="none" />
<line x1="947.3" y1="383.5" x2="1100" y2="383.5" stroke-width="3.4" />
<line x1="963.4" y1="363" x2="963.4" y2="421.5" stroke-width="1.0" />
<line x1="1087.6" y1="364" x2="1087.6" y2="421.5" stroke-width="1.0" />
<line x1="963.4" y1="413.4" x2="1087.6" y2="413.4" stroke-width="1.2" />
<path d="M0,0 L-17.6,-4.9 L-14.200000000000001,0 L-17.6,4.9 Z" fill="#2b2a29" stroke="none" transform="translate(963.4,413.4) rotate(180)"/>
<path d="M0,0 L-17.6,-4.9 L-14.200000000000001,0 L-17.6,4.9 Z" fill="#2b2a29" stroke="none" transform="translate(1087.6,413.4) rotate(0)"/>
<text transform="translate(1022.6,408.9) rotate(0) scale(0.81,1)" font-size="19.3" text-anchor="middle" fill="#2b2a29" stroke="none" >2040</text>
</svg>
</body></html>
